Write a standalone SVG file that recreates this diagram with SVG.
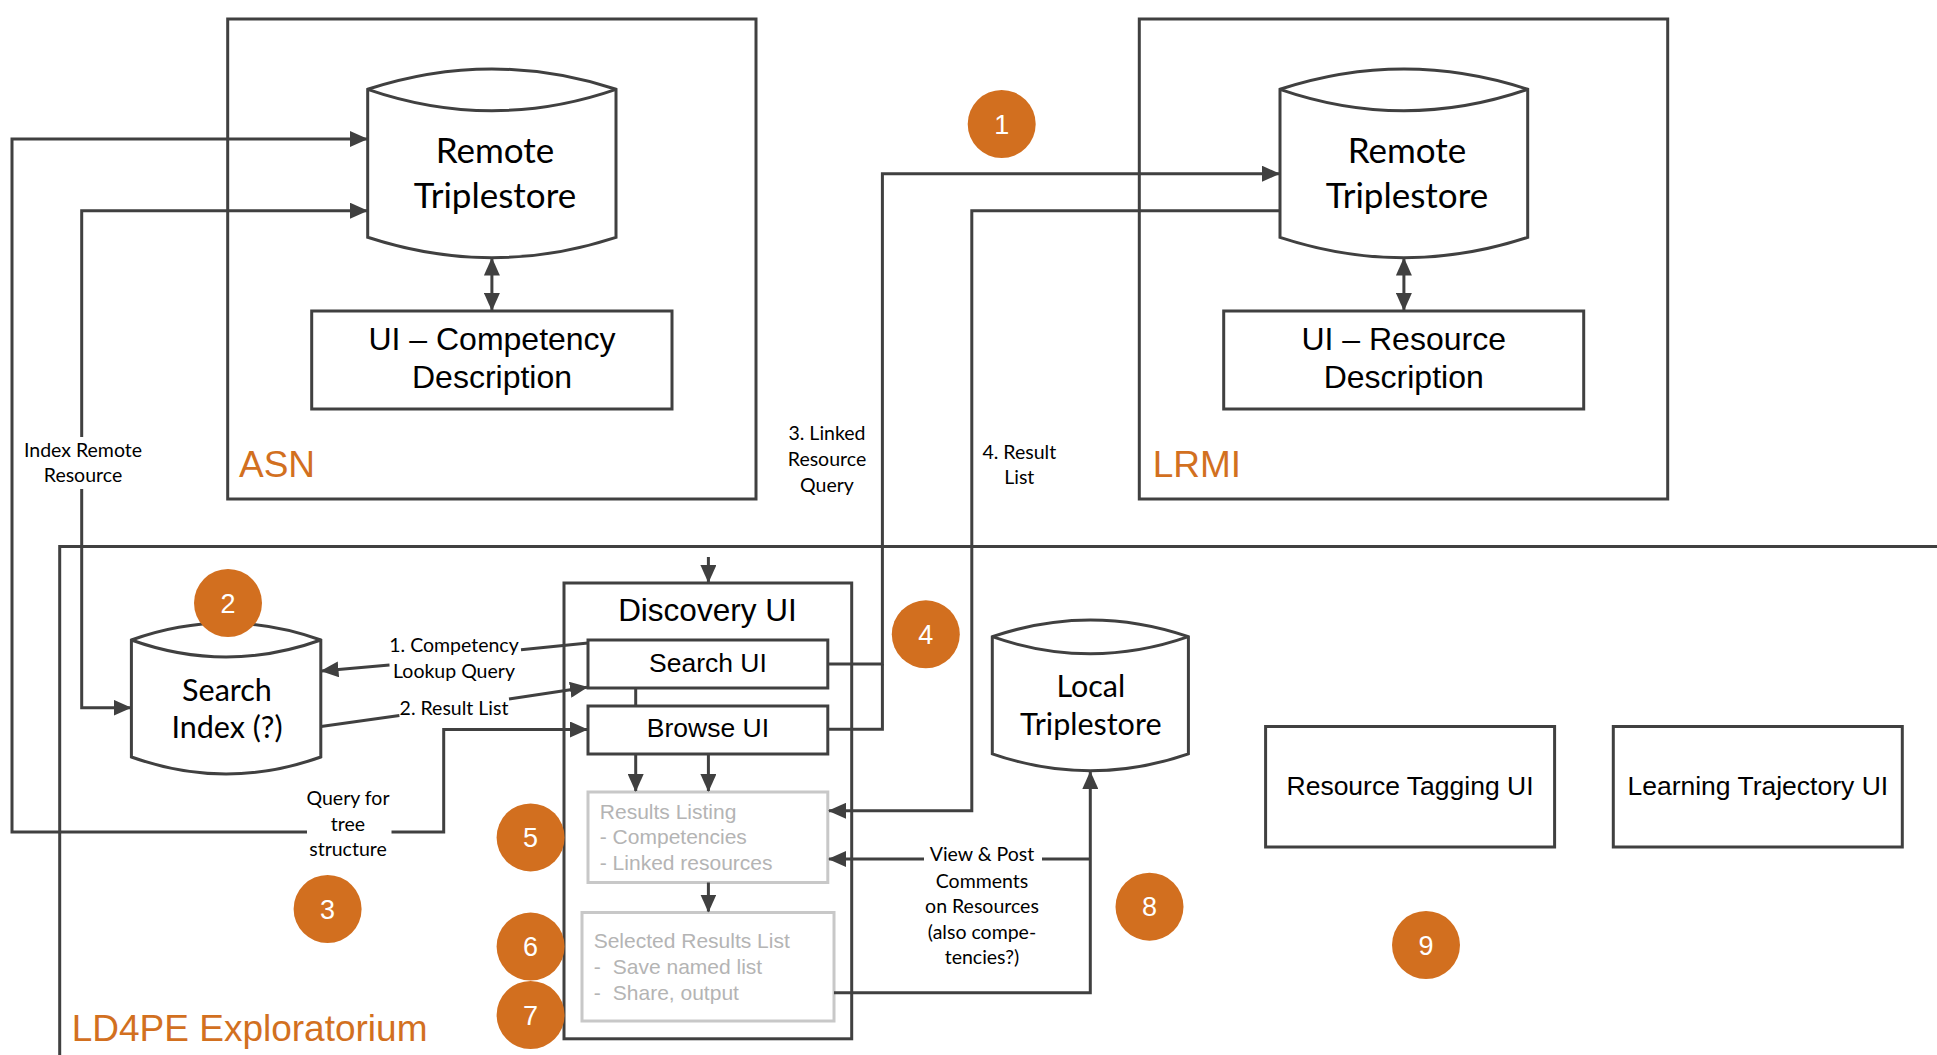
<svg xmlns="http://www.w3.org/2000/svg" width="1937" height="1055" viewBox="0 0 1937 1055">
<defs>
<style>
.frame{fill:none;stroke:#404040;stroke-width:3}
.box{fill:#fff;stroke:#404040;stroke-width:3}
.gbox{fill:#fff;stroke:#c8c8c8;stroke-width:3}
.ln{fill:none;stroke:#404040;stroke-width:3}
.cal{font-family:Lato,"Open Sans",sans-serif;fill:#000}
.ar{font-family:"Liberation Sans",Arial,sans-serif;fill:#000}
.gray{font-family:"Liberation Sans",Arial,sans-serif;fill:#b4b4b4;font-size:21px}
.title{font-family:"Liberation Sans",Arial,sans-serif;fill:#d2701f;font-size:37px}
.lbl{font-size:19.5px;text-anchor:middle}
.badge circle{fill:#d26f1f}
.badge text{font-family:"Liberation Sans",Arial,sans-serif;fill:#fff;font-size:27px;text-anchor:middle}
.mid{text-anchor:middle}
</style>
<marker id="ah" viewBox="0 0 18 16" refX="17" refY="8" markerWidth="18" markerHeight="16" markerUnits="userSpaceOnUse" orient="auto-start-reverse">
<path d="M0,0 L18,8 L0,16 z" fill="#404040"/>
</marker>
</defs>
<rect width="1937" height="1055" fill="#fff"/>

<!-- containers -->
<g id="asn">
<rect class="frame" x="227.7" y="19" width="528.3" height="480"/>
<text class="title" x="239" y="477">ASN</text>
</g>
<g id="lrmi">
<rect class="frame" x="1139.3" y="19" width="528.4" height="480"/>
<text class="title" x="1152.7" y="477">LRMI</text>
</g>
<g id="ld4pe">
<path class="frame" d="M59.7,1060 L59.7,546.6 L1940,546.6"/>
<text class="title" x="71.7" y="1040.5">LD4PE Exploratorium</text>
</g>
<g id="discovery">
<rect class="frame" x="564" y="583" width="287.7" height="455.8"/>
<text class="ar mid" x="707.4" y="621.4" font-size="31.5">Discovery UI</text>
</g>

<!-- nodes -->
<g id="asn-triplestore">
<path class="box" d="M367.7,89.3 Q491.9,48.7 616,89.3 L616,237.3 Q491.9,278.1 367.7,237.3 Z"/>
<path class="ln" d="M367.7,89.3 Q491.9,132.1 616,89.3"/>
<text class="cal mid" x="495" y="163" font-size="35">Remote</text>
<text class="cal mid" x="495" y="208" font-size="35">Triplestore</text>
</g>
<g id="ui-competency">
<rect class="box" x="311.7" y="311" width="360.3" height="98"/>
<text class="ar mid" x="492" y="350" font-size="32">UI – Competency</text>
<text class="ar mid" x="492" y="388" font-size="32">Description</text>
</g>
<g id="lrmi-triplestore">
<path class="box" d="M1280,89.3 Q1403.9,48.7 1527.7,89.3 L1527.7,237.3 Q1403.9,278.1 1280,237.3 Z"/>
<path class="ln" d="M1280,89.3 Q1403.9,132.1 1527.7,89.3"/>
<text class="cal mid" x="1407" y="163" font-size="35">Remote</text>
<text class="cal mid" x="1407" y="208" font-size="35">Triplestore</text>
</g>
<g id="ui-resource">
<rect class="box" x="1223.7" y="311" width="360" height="98"/>
<text class="ar mid" x="1403.7" y="350" font-size="32">UI – Resource</text>
<text class="ar mid" x="1403.7" y="388" font-size="32">Description</text>
</g>
<g id="search-index">
<path class="box" d="M131.4,640 Q226.1,606 320.8,640 L320.8,757 Q226.1,791 131.4,757 Z"/>
<path class="ln" d="M131.4,640 Q226.1,674 320.8,640"/>
<text class="cal mid" x="227" y="701" font-size="30.5">Search</text>
<text class="cal mid" x="227" y="738.4" font-size="30.5">Index (?)</text>
</g>
<g id="search-ui">
<rect class="box" x="588" y="640" width="239.8" height="48"/>
<text class="ar mid" x="707.9" y="672" font-size="26.5">Search UI</text>
</g>
<g id="browse-ui">
<rect class="box" x="588" y="706" width="239.8" height="48"/>
<text class="ar mid" x="707.9" y="737.4" font-size="26.5">Browse UI</text>
</g>
<g id="results-listing">
<rect class="gbox" x="588" y="792" width="239.8" height="90.5"/>
<text class="gray" x="599.8" y="818.6">Results Listing</text>
<text class="gray" x="599.8" y="843.5">- Competencies</text>
<text class="gray" x="599.8" y="869.8">- Linked resources</text>
</g>
<g id="selected-results">
<rect class="gbox" x="582" y="912.5" width="252" height="108.5"/>
<text class="gray" x="593.7" y="948.3">Selected Results List</text>
<text class="gray" x="593.7" y="974">-</text>
<text class="gray" x="612.8" y="974">Save named list</text>
<text class="gray" x="593.7" y="999.5">-</text>
<text class="gray" x="612.8" y="999.5">Share, output</text>
</g>
<g id="local-triplestore">
<path class="box" d="M992.3,636.7 Q1090.3,603.3 1188.4,636.7 L1188.4,753.8 Q1090.3,787.8 992.3,753.8 Z"/>
<path class="ln" d="M992.3,636.7 Q1090.3,670.9 1188.4,636.7"/>
<text class="cal mid" x="1090.8" y="697" font-size="30.5">Local</text>
<text class="cal mid" x="1090.8" y="735" font-size="30.5">Triplestore</text>
</g>
<g id="resource-tagging">
<rect class="box" x="1265.6" y="726.5" width="289" height="120.5"/>
<text class="ar mid" x="1410" y="794.7" font-size="26.5">Resource Tagging UI</text>
</g>
<g id="learning-trajectory">
<rect class="box" x="1613.3" y="726.5" width="289" height="120.5"/>
<text class="ar mid" x="1757.8" y="794.7" font-size="26.5">Learning Trajectory UI</text>
</g>

<!-- connectors -->
<g id="connectors">
<path class="ln" marker-start="url(#ah)" marker-end="url(#ah)" d="M491.9,258.5 L491.9,310"/>
<path class="ln" marker-start="url(#ah)" marker-end="url(#ah)" d="M1403.9,258.5 L1403.9,310"/>
<path class="ln" marker-start="url(#ah)" d="M367,139 L12,139 L12,832 L307,832"/>
<path class="ln" marker-end="url(#ah)" d="M391.5,832 L443.7,832 L443.7,729.5 L587,729.5"/>
<path class="ln" marker-start="url(#ah)" d="M367,210.7 L81.7,210.7 L81.7,437"/>
<path class="ln" marker-end="url(#ah)" d="M81.7,489 L81.7,707.7 L130.5,707.7"/>
<path class="ln" d="M588,643 L521,649.7"/>
<path class="ln" marker-end="url(#ah)" d="M389.5,665 L321.5,670.9"/>
<path class="ln" d="M321,726.5 L399.4,715.6"/>
<path class="ln" marker-end="url(#ah)" d="M509,699 L587,687.2"/>
<path class="ln" d="M635.7,688 L635.7,706"/>
<path class="ln" marker-end="url(#ah)" d="M827.8,664 L882.4,664 L882.4,173.7 L1279,173.7"/>
<path class="ln" d="M827.8,729.2 L882.4,729.2 L882.4,664"/>
<path class="ln" marker-end="url(#ah)" d="M1280,210.7 L971.8,210.7 L971.8,810.8 L829,810.8"/>
<path class="ln" marker-end="url(#ah)" d="M708.4,557 L708.4,582"/>
<path class="ln" marker-end="url(#ah)" d="M635.7,754 L635.7,791"/>
<path class="ln" marker-end="url(#ah)" d="M708.4,754 L708.4,791"/>
<path class="ln" marker-end="url(#ah)" d="M708.4,882.5 L708.4,911.5"/>
<path class="ln" marker-end="url(#ah)" d="M924,859 L829,859"/>
<path class="ln" d="M1042,859 L1090.3,859"/>
<path class="ln" marker-end="url(#ah)" d="M834,992.7 L1090.3,992.7 L1090.3,772"/>
<text class="cal lbl" x="83" y="457">Index Remote</text>
<text class="cal lbl" x="83" y="482">Resource</text>
<text class="cal lbl" x="348" y="805">Query for</text>
<text class="cal lbl" x="348" y="830.6">tree</text>
<text class="cal lbl" x="348" y="856">structure</text>
<text class="cal lbl" x="827" y="440">3. Linked</text>
<text class="cal lbl" x="827" y="466">Resource</text>
<text class="cal lbl" x="827" y="492">Query</text>
<text class="cal lbl" x="1019.3" y="459">4. Result</text>
<text class="cal lbl" x="1019.3" y="484">List</text>
<text class="cal lbl" x="454" y="652.4">1. Competency</text>
<text class="cal lbl" x="454" y="677.7">Lookup Query</text>
<text class="cal lbl" x="454" y="714.5">2. Result List</text>
<text class="cal lbl" x="982" y="861.3">View &amp; Post</text>
<text class="cal lbl" x="982" y="887.5">Comments</text>
<text class="cal lbl" x="982" y="913">on Resources</text>
<text class="cal lbl" x="982" y="939">(also compe-</text>
<text class="cal lbl" x="982" y="964.4">tencies?)</text>
</g>

<!-- badges -->
<g id="badge-1" class="badge"><circle cx="1001.7" cy="124" r="34"/><text x="1001.7" y="133.5">1</text></g>
<g id="badge-2" class="badge"><circle cx="228" cy="603" r="34"/><text x="228" y="612.5">2</text></g>
<g id="badge-3" class="badge"><circle cx="327.6" cy="909" r="34"/><text x="327.6" y="918.5">3</text></g>
<g id="badge-4" class="badge"><circle cx="925.8" cy="634.3" r="34"/><text x="925.8" y="643.8">4</text></g>
<g id="badge-5" class="badge"><circle cx="530.6" cy="837.4" r="34"/><text x="530.6" y="846.9">5</text></g>
<g id="badge-6" class="badge"><circle cx="530.6" cy="946.6" r="34"/><text x="530.6" y="956.1">6</text></g>
<g id="badge-7" class="badge"><circle cx="530.6" cy="1015" r="34"/><text x="530.6" y="1024.5">7</text></g>
<g id="badge-8" class="badge"><circle cx="1149.5" cy="906.7" r="34"/><text x="1149.5" y="916.2">8</text></g>
<g id="badge-9" class="badge"><circle cx="1426" cy="945" r="34"/><text x="1426" y="954.5">9</text></g>
</svg>
